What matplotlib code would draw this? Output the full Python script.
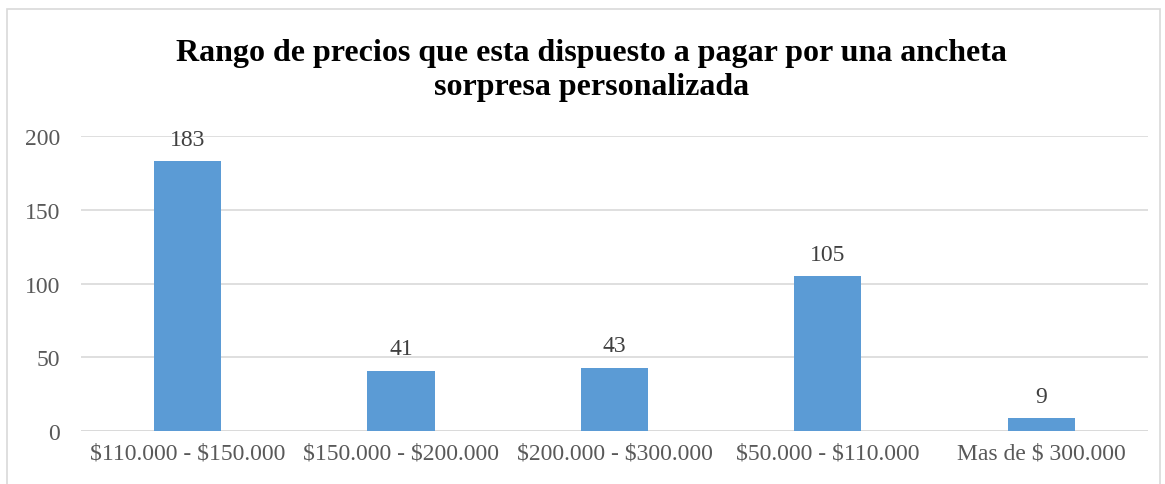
import matplotlib.pyplot as plt
from matplotlib.patches import Rectangle

categorias = ["$110.000 - $150.000", "$150.000 - $200.000", "$200.000 - $300.000",
              "$50.000 - $110.000", "Mas de $ 300.000"]
valores = [183, 41, 43, 105, 9]

plt.rcParams["font.family"] = ["Liberation Serif", "DejaVu Serif"]
plt.rcParams["text.parse_math"] = False

fig = plt.figure(figsize=(11.65, 4.85), dpi=100)
ax = fig.add_axes([0.0695, 0.1093, 0.9159, 0.6082])

x = range(len(categorias))
barras = ax.bar(x, valores, width=0.315, color="#5B9BD5", zorder=3)
for b, v in zip(barras, valores):
    ax.annotate(str(v), (b.get_x() + b.get_width() / 2, v), xytext=(0, 8),
                textcoords="offset points", ha="center", va="bottom",
                fontsize=17, color="#404040")

ax.set_xlim(-0.5, len(categorias) - 0.5)
ax.set_ylim(0, 200)
ax.set_yticks([0, 50, 100, 150, 200])
ax.set_xticks(list(x))
ax.set_xticklabels(categorias)
ax.tick_params(axis="both", length=0, labelsize=17, colors="#595959")
ax.tick_params(axis="y", pad=15)
ax.tick_params(axis="x", pad=8)
ax.yaxis.grid(True, color="#D9D9D9", linewidth=1.2, zorder=0)
for s in ax.spines.values():
    s.set_visible(False)
ax.axhline(0, color="#D9D9D9", linewidth=1.2, zorder=2)

fig.text(0.508, 0.855, "Rango de precios que esta dispuesto a pagar por una ancheta\nsorpresa personalizada",
         ha="center", va="center", fontsize=23, fontweight="bold", linespacing=1.25)

fig.patches.append(Rectangle((7 / 1165, -0.05), 1153 / 1165, 1.05 - 10 / 485,
                             transform=fig.transFigure, fill=False,
                             edgecolor="#D9D9D9", linewidth=1.2))

plt.savefig("out.png")
